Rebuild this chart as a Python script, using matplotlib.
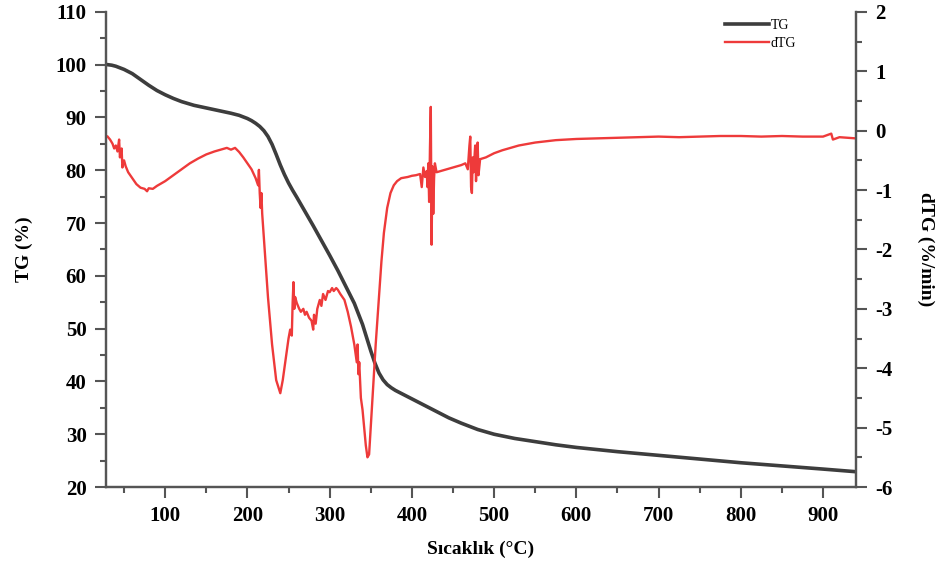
import matplotlib
matplotlib.use("Agg")
import matplotlib.pyplot as plt
from matplotlib.ticker import MultipleLocator

plt.rcParams['font.family'] = ['Liberation Serif', 'DejaVu Serif']
plt.rcParams['font.weight'] = 'bold'
plt.rcParams['axes.labelweight'] = 'bold'
plt.rcParams['axes.unicode_minus'] = False

# TG curve (left axis, %)
tg_temp = [30, 35, 40, 50, 60, 70, 80, 90, 100, 110, 120, 135, 150, 165, 180, 190,
           200, 205, 210, 215, 220, 225, 230, 235, 240, 245, 250, 255, 260, 270, 280,
           290, 300, 310, 320, 330, 340, 345, 350, 355, 360, 365, 370, 375, 380, 390,
           400, 415, 430, 445, 460, 480, 500, 525, 550, 575, 600, 650, 700, 750, 800,
           850, 900, 940]
tg_val = [100.0, 99.9, 99.7, 99.1, 98.3, 97.2, 96.1, 95.1, 94.3, 93.6, 93.0, 92.3,
          91.8, 91.3, 90.8, 90.4, 89.8, 89.4, 88.9, 88.3, 87.5, 86.4, 84.9, 83.0, 81.0,
          79.2, 77.6, 76.2, 74.9, 72.2, 69.5, 66.7, 63.9, 61.0, 57.9, 54.8, 50.8, 48.3,
          45.8, 43.5, 41.6, 40.3, 39.4, 38.8, 38.3, 37.5, 36.7, 35.5, 34.3, 33.1, 32.1,
          30.9, 30.0, 29.2, 28.6, 28.0, 27.5, 26.7, 26.0, 25.3, 24.6, 24.0, 23.4, 22.9]

# dTG curve (right axis, %/min)
dtg_temp = [30, 33, 36, 38, 40, 42, 44, 45, 47, 48, 50, 52, 55, 60, 65, 70, 75, 78, 80,
            85, 90, 100, 110, 120, 130, 140, 150, 160, 170, 175, 180, 185, 190, 195,
            200, 205, 210, 213, 214, 215, 216, 217, 218, 220, 225, 230, 235, 240, 243,
            247, 250, 252, 254, 255, 256, 257, 258, 260, 263, 265, 268, 270, 272, 275,
            278, 280, 281, 283, 285, 288, 290, 292, 295, 298, 300, 303, 305, 308, 310,
            313, 318, 322, 326, 330, 333, 334, 335, 336, 338, 340, 342, 344, 346, 348,
            350, 353, 356, 358, 360, 363, 366, 370, 374, 378, 382, 387, 395, 400, 405,
            410, 412, 414, 416, 418, 419, 420, 421, 422, 423, 424, 425, 426, 427, 428,
            430, 435, 440, 445, 450, 455, 460, 465, 468, 470, 471, 472, 473, 474, 475,
            477, 478, 480, 481, 483, 490, 500, 510, 520, 530, 550, 575, 600, 625, 650,
            675, 700, 725, 750, 775, 800, 825, 850, 875, 900, 910, 912, 920, 940]
dtg_val = [-0.10, -0.15, -0.22, -0.30, -0.25, -0.35, -0.15, -0.45, -0.30, -0.62, -0.50,
           -0.60, -0.70, -0.80, -0.90, -0.96, -0.98, -1.02, -0.97, -0.98, -0.93, -0.85,
           -0.75, -0.65, -0.55, -0.47, -0.40, -0.35, -0.31, -0.29, -0.32, -0.29, -0.36,
           -0.45, -0.55, -0.65, -0.80, -0.92, -0.66, -1.05, -1.30, -1.05, -1.40, -1.80,
           -2.80, -3.60, -4.20, -4.42, -4.20, -3.80, -3.50, -3.35, -3.45, -2.90, -2.55,
           -3.00, -2.80, -2.90, -3.00, -3.05, -3.00, -3.10, -3.05, -3.15, -3.20, -3.35,
           -3.10, -3.25, -3.00, -2.85, -2.95, -2.75, -2.85, -2.70, -2.72, -2.65, -2.70,
           -2.65, -2.68, -2.75, -2.85, -3.05, -3.30, -3.60, -3.90, -3.60, -4.10, -3.90,
           -4.50, -4.70, -5.00, -5.30, -5.50, -5.45, -5.00, -4.30, -3.60, -3.20, -2.80,
           -2.20, -1.72, -1.30, -1.05, -0.92, -0.85, -0.80, -0.78, -0.76, -0.75, -0.73,
           -0.95, -0.62, -0.78, -0.68, -0.95, -0.55, -1.20, -0.30, 0.40, -1.92, -0.60,
           -1.40, -0.80, -0.55, -0.70, -0.68, -0.66, -0.64, -0.62, -0.60, -0.58, -0.55,
           -0.65, -0.25, -0.10, -0.95, -1.05, -0.45, -0.70, -0.25, -0.85, -0.20, -0.75,
           -0.48, -0.45, -0.38, -0.33, -0.29, -0.25, -0.20, -0.16, -0.14, -0.13, -0.12,
           -0.11, -0.10, -0.11, -0.10, -0.09, -0.09, -0.10, -0.09, -0.10, -0.10, -0.05,
           -0.15, -0.11, -0.13]

fig = plt.figure(figsize=(9.41, 5.65), dpi=100)
ax = fig.add_axes([0.1126, 0.138, 0.797, 0.841])
ax2 = ax.twinx()

l1, = ax.plot(tg_temp, tg_val, color='#3d3d3d', lw=2.6, label='TG')
l2, = ax2.plot(dtg_temp, dtg_val, color='#ee3a3a', lw=1.7, label='dTG')

ax.set_xlim(28, 940)
ax.set_ylim(20, 110)
ax2.set_ylim(-6, 2)

ax.xaxis.set_major_locator(MultipleLocator(100))
ax.xaxis.set_minor_locator(MultipleLocator(50))
ax.yaxis.set_major_locator(MultipleLocator(10))
ax.yaxis.set_minor_locator(MultipleLocator(5))
ax2.yaxis.set_major_locator(MultipleLocator(1))
ax2.yaxis.set_minor_locator(MultipleLocator(0.5))

for a in (ax, ax2):
    a.spines['top'].set_visible(False)
    for s in a.spines.values():
        s.set_color('#555555')
        s.set_linewidth(1.6)
    a.tick_params(which='major', length=8, width=1.5, color='#555555',
                  labelsize=15, pad=6)
    a.tick_params(which='minor', length=4, width=1.5, color='#555555')

ax.set_xlabel('Sıcaklık (°C)', fontsize=14, fontweight='bold', labelpad=10)
ax.set_ylabel('TG (%)', fontsize=14, fontweight='bold', labelpad=16)
ax2.set_ylabel('dTG (%/min)', fontsize=14, fontweight='bold', rotation=270, labelpad=30)

fig.legend(handles=[l1, l2], loc='upper left', bbox_to_anchor=(0.757, 0.989),
           frameon=False, prop={'size': 10, 'weight': 'normal'},
           handlelength=3.2, handletextpad=0.1, labelspacing=0.35)

fig.savefig('out.png', dpi=100)
